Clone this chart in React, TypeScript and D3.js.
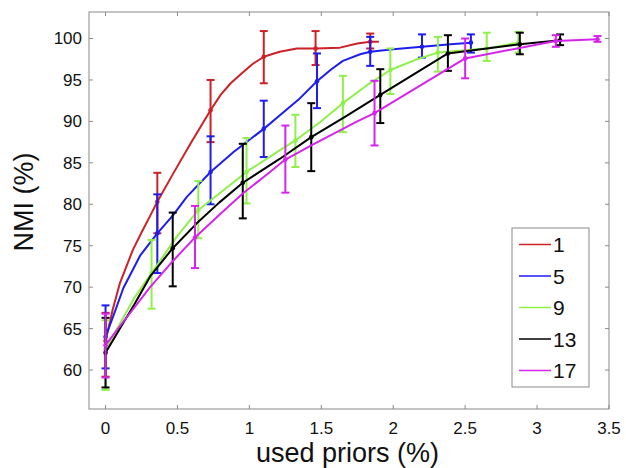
import React from "react";
import * as d3 from "d3";

// Percentage of used priors and NMI values for each neighbourhood size
type Pt = [number, number];
type Err = [number, number, number, number]; // x, mean, low, high

const seriesNames = ["1", "5", "9", "13", "17"];
const seriesColors = ["#cc2127", "#1d1df0", "#8ff04a", "#000000", "#d624ec"];

const line1: Pt[] = [
  [0, 63.5], [0.05, 67.3], [0.1, 70.5], [0.19, 74.5], [0.25, 76.6], [0.31, 78.6],
  [0.36, 80.3], [0.47, 83.7], [0.59, 87.3], [0.73, 91.35], [0.8, 93.2], [0.87, 94.6],
  [0.94, 95.7], [1.02, 96.9], [1.1, 97.8], [1.21, 98.4], [1.33, 98.8], [1.46, 98.8],
  [1.63, 98.9], [1.75, 99.4], [1.84, 99.6], [1.9, 99.6],
];
const err1: Err[] = [
  [0, 63.5, 59.2, 66.9], [0.36, 80.3, 76.5, 83.8], [0.73, 91.35, 87.5, 95.0],
  [1.1, 97.8, 94.6, 100.9], [1.46, 98.8, 96.8, 100.9], [1.84, 99.6, 98.8, 100.6],
];

const line5: Pt[] = [
  [0, 64.0], [0.06, 66.8], [0.124, 69.9], [0.24, 73.8], [0.36, 76.5], [0.47, 78.7],
  [0.565, 80.9], [0.73, 83.9], [0.89, 86.3], [1.1, 89.1], [1.21, 90.7], [1.34, 92.6],
  [1.47, 94.85], [1.57, 96.3], [1.65, 97.3], [1.77, 98.1], [1.84, 98.4], [2.0, 98.7],
  [2.2, 99.0], [2.4, 99.3], [2.54, 99.5],
];
const err5: Err[] = [
  [0, 64.0, 60.2, 67.8], [0.36, 76.5, 71.7, 81.2], [0.73, 83.9, 80.0, 88.2],
  [1.1, 89.1, 85.7, 92.5], [1.47, 94.85, 91.6, 98.2], [1.84, 98.4, 96.7, 100.2],
  [2.2, 99.0, 97.7, 100.5], [2.54, 99.5, 98.3, 100.5],
];

const line9: Pt[] = [
  [0, 62.5], [0.1, 65.6], [0.2, 68.7], [0.32, 71.7], [0.495, 76.1], [0.645, 79.3],
  [0.82, 81.7], [0.98, 83.9], [1.21, 86.5], [1.32, 87.7], [1.49, 89.9], [1.65, 92.2],
  [1.82, 94.4], [1.98, 96.2], [2.15, 97.4], [2.31, 98.3], [2.65, 98.8], [2.87, 99.5],
];
const err9: Err[] = [
  [0, 62.5, 57.6, 66.0], [0.32, 71.7, 67.4, 75.7], [0.645, 79.3, 75.9, 82.8],
  [0.98, 83.9, 80.1, 88.0], [1.32, 87.7, 84.5, 90.8], [1.65, 92.2, 88.7, 95.5],
  [1.98, 96.2, 93.3, 98.8], [2.31, 98.3, 96.0, 100.2], [2.65, 98.8, 97.3, 100.7],
  [2.87, 99.5, 98.3, 100.8],
];

const line13: Pt[] = [
  [0, 62.1], [0.1, 65.0], [0.2, 67.9], [0.31, 71.3], [0.467, 74.7], [0.634, 77.7],
  [0.79, 80.2], [0.954, 82.6], [1.213, 85.5], [1.43, 88.1], [1.67, 90.6], [1.91, 93.2],
  [2.38, 98.2], [2.88, 99.3], [3.16, 99.8],
];
const err13: Err[] = [
  [0, 62.1, 57.9, 66.3], [0.467, 74.7, 70.1, 79.0], [0.954, 82.6, 78.3, 87.3],
  [1.43, 88.1, 84.0, 92.2], [1.91, 93.2, 89.8, 96.3], [2.38, 98.2, 96.1, 100.4],
  [2.88, 99.3, 98.1, 100.7], [3.16, 99.8, 99.2, 100.5],
];

const line17: Pt[] = [
  [0, 63.0], [0.078, 64.8], [0.31, 70.0], [0.46, 73.0], [0.622, 76.0], [0.79, 78.7],
  [0.954, 81.3], [1.1, 83.3], [1.25, 85.4], [1.45, 87.3], [1.65, 89.1], [1.75, 90.0],
  [1.87, 91.0], [2.5, 97.6], [3.13, 99.7], [3.42, 99.9],
];
const err17: Err[] = [
  [0, 63.0, 59.1, 66.8], [0.622, 76.0, 72.3, 79.8], [1.25, 85.4, 81.4, 89.5],
  [1.87, 91.0, 87.1, 94.9], [2.5, 97.6, 95.2, 100.0], [3.13, 99.7, 99.0, 100.4],
  [3.42, 99.9, 99.6, 100.3],
];

const seriesLines = [line1, line5, line9, line13, line17];
const seriesErrs = [err1, err5, err9, err13, err17];

const xTicks = [0, 0.5, 1, 1.5, 2, 2.5, 3, 3.5];
const yTicks = [60, 65, 70, 75, 80, 85, 90, 95, 100];

const W = 626;
const H = 468;
const plot = { left: 89, right: 609, top: 12, bottom: 409 };
const FONT = "'Liberation Sans', Arial, Helvetica, sans-serif";

export default function App() {
  const x = d3.scaleLinear().domain([-0.115, 3.5]).range([plot.left, plot.right]);
  const y = d3.scaleLinear().domain([55.3, 103.2]).range([plot.bottom, plot.top]);
  const lineGen = d3
    .line<Pt>()
    .x((d) => x(d[0]))
    .y((d) => y(d[1]))
    .curve(d3.curveLinear);

  const tickLen = 4;
  const frameColor = "#8a8a8a";
  const capHalf = 4;

  const legend = { x0: 512, y0: 228, x1: 589, y1: 387 };
  const legendRowY = (i: number) => 244.5 + i * 31.5;

  return (
    <svg
      width={W}
      height={H}
      style={{ position: "absolute", left: 0, top: 0, background: "#fff" }}
      fontFamily={FONT}
    >
      <rect x={0} y={0} width={W} height={H} fill="#fff" />

      {/* plot frame */}
      <rect
        x={plot.left}
        y={plot.top}
        width={plot.right - plot.left}
        height={plot.bottom - plot.top}
        fill="none"
        stroke={frameColor}
        strokeWidth={1}
      />

      {/* ticks on all four sides */}
      {xTicks.map((t) => (
        <g key={"xt" + t}>
          <line x1={x(t)} x2={x(t)} y1={plot.bottom} y2={plot.bottom - tickLen} stroke={frameColor} />
          <line x1={x(t)} x2={x(t)} y1={plot.top} y2={plot.top + tickLen} stroke={frameColor} />
          <text x={x(t)} y={434} fontSize={17} textAnchor="middle" fill="#111">
            {t}
          </text>
        </g>
      ))}
      {yTicks.map((t) => (
        <g key={"yt" + t}>
          <line x1={plot.left} x2={plot.left + tickLen} y1={y(t)} y2={y(t)} stroke={frameColor} />
          <line x1={plot.right} x2={plot.right - tickLen} y1={y(t)} y2={y(t)} stroke={frameColor} />
          <text x={82} y={y(t)} dy="0.35em" fontSize={17} textAnchor="end" fill="#111">
            {t}
          </text>
        </g>
      ))}

      {/* series: lines, error bars and markers */}
      {seriesLines.map((pts, i) => (
        <g key={"s" + i} stroke={seriesColors[i]} fill="none" strokeWidth={2}>
          <path d={lineGen(pts) ?? ""} strokeLinejoin="round" />
          {seriesErrs[i].map((e, j) => (
            <g key={j}>
              <line x1={x(e[0])} x2={x(e[0])} y1={y(e[2])} y2={y(e[3])} />
              <line x1={x(e[0]) - capHalf} x2={x(e[0]) + capHalf} y1={y(e[2])} y2={y(e[2])} />
              <line x1={x(e[0]) - capHalf} x2={x(e[0]) + capHalf} y1={y(e[3])} y2={y(e[3])} />
              <circle cx={x(e[0])} cy={y(e[1])} r={2.3} fill={seriesColors[i]} stroke="none" />
            </g>
          ))}
        </g>
      ))}

      {/* legend */}
      <rect
        x={legend.x0}
        y={legend.y0}
        width={legend.x1 - legend.x0}
        height={legend.y1 - legend.y0}
        fill="#fff"
        stroke={frameColor}
        strokeWidth={1}
      />
      {seriesNames.map((name, i) => (
        <g key={"lg" + name}>
          <line
            x1={519}
            x2={551}
            y1={legendRowY(i)}
            y2={legendRowY(i)}
            stroke={seriesColors[i]}
            strokeWidth={1.5}
          />
          <text x={553} y={legendRowY(i)} dy="0.36em" fontSize={21} fill="#111">
            {name}
          </text>
        </g>
      ))}

      {/* axis titles */}
      <text x={347.5} y={462} fontSize={27} textAnchor="middle" fill="#111">
        used priors (%)
      </text>
      <text transform="translate(33, 202) rotate(-90)" fontSize={27} textAnchor="middle" fill="#111">
        NMI (%)
      </text>
    </svg>
  );
}
